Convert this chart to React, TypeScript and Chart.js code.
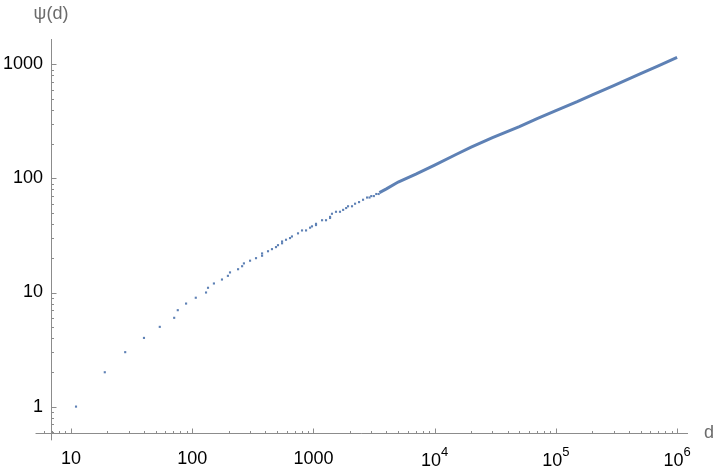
import React, { useEffect, useRef } from 'react';
import { Chart, registerables } from 'chart.js';
Chart.register(...registerables);

// Sparse points (d, psi)
const sparseD = [11, 19, 28, 40, 54, 71, 76, 89, 107, 130, 135, 151, 176, 197, 205, 239, 258, 267, 300, 336, 377, 377, 422, 455, 491, 510, 551, 551, 594, 641, 665, 746, 805, 869, 938, 973, 1050, 1050, 1178, 1270, 1371, 1371, 1422, 1535, 1656, 1758, 1862, 1929, 2081, 2205, 2379, 2566, 2768, 2900, 3000, 3150, 3300, 3450];
const sparsePsi = [1, 2, 3, 4, 5, 6, 7, 8, 9, 10, 11, 12, 13, 14, 15, 16, 17, 18, 19, 20, 21, 22, 23, 24, 25, 26, 27, 28, 29, 30, 31, 33, 35, 35, 37, 38, 39, 40, 43, 43, 45, 46, 49, 51, 51, 53, 55, 57, 57, 60, 62, 65, 68, 68, 70, 70, 73, 73];

// Dense staircase region (d, psi)
const denseD = [3500, 4000, 5000, 7000, 10000, 15000, 20000, 30000, 50000, 70000, 100000, 150000, 200000, 300000, 500000, 700000, 1000000];
const densePsi = [75, 81, 93, 109, 131, 162, 188, 228, 285, 335, 392, 470, 540, 650, 830, 970, 1150];

const xTickValues = [10, 100, 1000, 1e4, 1e5, 1e6];
const xTickBase = ['10', '100', '1000', '10', '10', '10'];
const xTickExp = ['', '', '', '4', '5', '6'];
const yTickValues = [1, 10, 100, 1000];
const yTickLabels = ['1', '10', '100', '1000'];
const xAxisLabel = 'd';
const yAxisLabel = 'ψ(d)';

const X_MIN = 6.84;
const X_MAX = 1.23e6;
const Y_MIN = 0.587;
const Y_MAX = 1667;
const X_AXIS_START = 5.1;
const Y_AXIS_LOW_END = 0.506;

const BLUE = '#5E81B5';
const AXIS = '#8c8c8c';
const LABEL_GREY = '#6b6b6b';
const FONT = '"Liberation Sans", Arial, sans-serif';

const axesPlugin = {
  id: 'mmaAxes',
  afterDraw(chart: any) {
    const { ctx, chartArea } = chart;
    const xs = chart.scales.x;
    const ys = chart.scales.y;
    const ax = Math.round(chartArea.left) + 0.5;
    const ay = Math.round(chartArea.bottom) + 0.5;
    ctx.save();
    ctx.strokeStyle = AXIS;
    ctx.lineWidth = 1;
    // axis lines
    ctx.beginPath();
    ctx.moveTo(xs.getPixelForValue(X_AXIS_START), ay);
    ctx.lineTo(chartArea.right, ay);
    ctx.moveTo(ax, chartArea.top);
    ctx.lineTo(ax, ys.getPixelForValue(Y_AXIS_LOW_END));
    ctx.stroke();
    // ticks
    ctx.beginPath();
    for (let k = 0; k <= 6; k++) {
      for (let m = 1; m <= 9; m++) {
        const v = m * Math.pow(10, k);
        if (v < X_AXIS_START || v > X_MAX) continue;
        const px = Math.round(xs.getPixelForValue(v)) + 0.5;
        const len = m === 1 ? 5 : 2.5;
        ctx.moveTo(px, ay);
        ctx.lineTo(px, ay - len);
      }
    }
    for (let k = -1; k <= 3; k++) {
      for (let m = 1; m <= 9; m++) {
        const v = m * Math.pow(10, k);
        if (v < Y_MIN || v > Y_MAX) continue;
        const py = Math.round(ys.getPixelForValue(v)) + 0.5;
        const len = m === 1 ? 5 : 2.5;
        ctx.moveTo(ax, py);
        ctx.lineTo(ax + len, py);
      }
    }
    ctx.stroke();
    // tick labels with exponents (base + superscript)
    ctx.fillStyle = '#000';
    ctx.textBaseline = 'alphabetic';
    ctx.textAlign = 'left';
    xTickValues.forEach((v, i) => {
      if (!xTickExp[i]) return;
      ctx.font = `18px ${FONT}`;
      const bw = ctx.measureText(xTickBase[i]).width;
      ctx.font = `13px ${FONT}`;
      const ew = ctx.measureText(xTickExp[i]).width;
      const cx = xs.getPixelForValue(v);
      const x0 = cx - (bw + ew) / 2;
      ctx.font = `18px ${FONT}`;
      ctx.fillText(xTickBase[i], x0, 465.5);
      ctx.font = `13px ${FONT}`;
      ctx.fillText(xTickExp[i], x0 + bw, 455.5);
    });
    // axis labels
    ctx.fillStyle = LABEL_GREY;
    ctx.font = `18px ${FONT}`;
    ctx.textBaseline = 'middle';
    ctx.textAlign = 'center';
    ctx.fillText(yAxisLabel, 51, 14);
    ctx.textAlign = 'left';
    ctx.fillText(xAxisLabel, 704, 433);
    ctx.restore();
  },
};

export default function App() {
  const ref = useRef<HTMLCanvasElement>(null);
  useEffect(() => {
    document.body.style.margin = '0';
    const sparse = sparseD.map((d, i) => ({ x: d, y: sparsePsi[i] }));
    const dense = denseD.map((d, i) => ({ x: d, y: densePsi[i] }));
    const chart = new Chart(ref.current as HTMLCanvasElement, {
      type: 'scatter',
      data: {
        datasets: [
          {
            data: sparse,
            pointStyle: 'rect',
            pointRadius: 1.5,
            pointHoverRadius: 1.5,
            backgroundColor: BLUE,
            borderColor: BLUE,
            borderWidth: 0,
            showLine: false,
          },
          {
            data: dense,
            showLine: true,
            pointRadius: 0,
            borderColor: BLUE,
            borderWidth: 3,
            tension: 0,
          },
        ],
      },
      plugins: [axesPlugin],
      options: {
        responsive: false,
        animation: false,
        devicePixelRatio: 1,
        layout: { padding: { top: 39, right: 32, left: 0, bottom: 0 } },
        plugins: { legend: { display: false }, tooltip: { enabled: false } },
        scales: {
          x: {
            type: 'logarithmic',
            min: X_MIN,
            max: X_MAX,
            grid: { display: false, drawTicks: false },
            border: { display: false },
            afterBuildTicks: (s: any) => {
              s.ticks = xTickValues.map((v) => ({ value: v }));
            },
            afterFit: (s: any) => {
              s.height = 43;
            },
            ticks: {
              autoSkip: false,
              maxRotation: 0,
              minRotation: 0,
              padding: 15,
              color: '#000',
              font: { family: FONT, size: 18 },
              callback: (_v: any, i: number) => (xTickExp[i] ? '' : xTickBase[i]),
            },
          },
          y: {
            type: 'logarithmic',
            min: Y_MIN,
            max: Y_MAX,
            grid: { display: false, drawTicks: false },
            border: { display: false },
            afterBuildTicks: (s: any) => {
              s.ticks = yTickValues.map((v) => ({ value: v }));
            },
            afterFit: (s: any) => {
              s.width = 51;
            },
            ticks: {
              autoSkip: false,
              padding: 8,
              color: '#000',
              font: { family: FONT, size: 18 },
              callback: (_v: any, i: number) => yTickLabels[i] ?? '',
            },
          },
        },
      },
    } as any);
    return () => chart.destroy();
  }, []);
  return (
    <div style={{ width: 720, height: 476, position: 'relative' }}>
      <canvas ref={ref} width={720} height={476} style={{ display: 'block', width: 720, height: 476 }} />
    </div>
  );
}
